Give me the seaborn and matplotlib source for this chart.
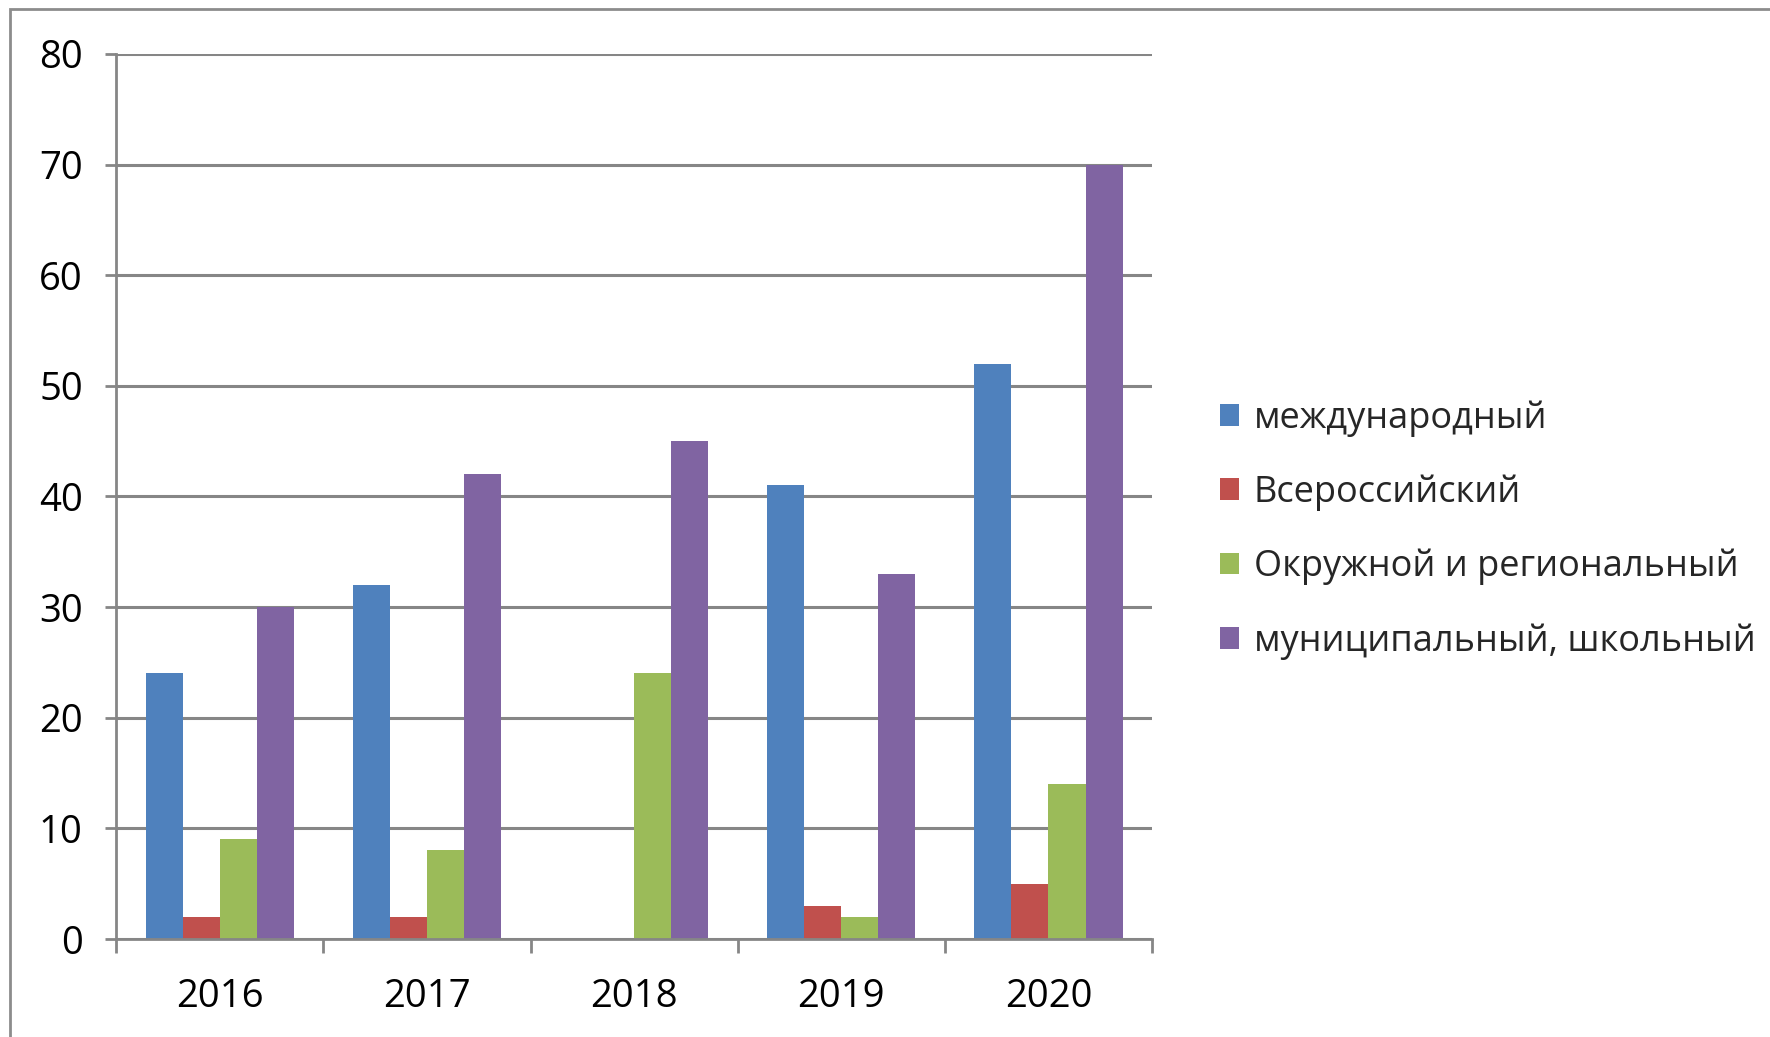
import matplotlib
matplotlib.use("Agg")
import matplotlib.pyplot as plt
import seaborn as sns
import pandas as pd
from matplotlib.patches import Rectangle

years = ["2016", "2017", "2018", "2019", "2020"]
series_names = ["международный", "Всероссийский", "Окружной и региональный", "муниципальный, школьный"]
international = [24, 32, 0, 41, 52]
all_russian = [2, 2, 0, 3, 5]
regional = [9, 8, 24, 2, 14]
municipal = [30, 42, 45, 33, 70]
colors = ["#4F81BD", "#C0504D", "#9BBB59", "#8064A2"]
y_ticks = [0, 10, 20, 30, 40, 50, 60, 70, 80]

rows = []
for name, vals in zip(series_names, [international, all_russian, regional, municipal]):
    for yr, v in zip(years, vals):
        rows.append({"Год": yr, "Уровень": name, "Количество": v})
df = pd.DataFrame(rows)

sns.set_theme(style="white")
plt.rcParams["font.family"] = ["Open Sans", "DejaVu Sans"]

fig = plt.figure(figsize=(17.7, 10.37), dpi=100)
ax = fig.add_axes([0.0656, 0.0945, 0.5853, 0.8535])

sns.barplot(data=df, x="Год", y="Количество", hue="Уровень", palette=colors,
            width=0.716, saturation=1, edgecolor="none", linewidth=0, ax=ax)

grid_col = "#868686"
ax.set_ylim(0, 80)
ax.set_xlim(-0.5, 4.5)
ax.set_yticks(y_ticks)
ax.set_yticklabels([str(t) for t in y_ticks], fontsize=27.5, color="black")
ax.yaxis.grid(True, color=grid_col, linewidth=2.2)
ax.set_axisbelow(True)

# category boundary ticks as major, labels on minor ticks
ax.set_xticks([i - 0.5 for i in range(len(years) + 1)])
ax.set_xticklabels([])
ax.set_xticks(range(len(years)), minor=True)
ax.set_xticklabels(years, minor=True, fontsize=27.5, color="black")
ax.tick_params(axis="x", which="major", direction="out", length=10, width=2, color=grid_col, bottom=True)
ax.tick_params(axis="x", which="minor", length=0, pad=28)
ax.tick_params(axis="y", direction="out", length=8, width=2, color=grid_col, left=True, pad=16)

for s in ["top", "right"]:
    ax.spines[s].set_visible(False)
for s in ["left", "bottom"]:
    ax.spines[s].set_color(grid_col)
    ax.spines[s].set_linewidth(2)

ax.set_xlabel("")
ax.set_ylabel("")

handles, labels = ax.get_legend_handles_labels()
ax.legend(handles, labels, loc="center left", bbox_to_anchor=(0.689, 0.489),
          bbox_transform=fig.transFigure, frameon=False, fontsize=26,
          handlelength=0.55, handleheight=0.55, handletextpad=0.4,
          labelspacing=1.05, borderpad=0, borderaxespad=0)

# outer chart frame
fig.add_artist(Rectangle((10 / 1770, -0.05), 1.2, 1 - 9 / 1037 + 0.05,
                         transform=fig.transFigure, fill=False,
                         edgecolor="#8c8c8c", linewidth=2))

fig.savefig("out.png", dpi=100)
